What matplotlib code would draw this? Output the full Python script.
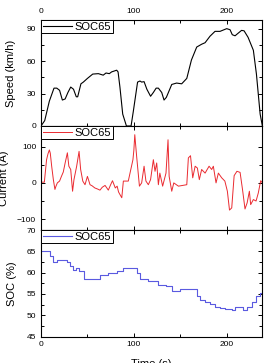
import matplotlib
matplotlib.use("Agg")
import matplotlib.pyplot as plt
from matplotlib.ticker import MultipleLocator, FixedLocator

plt.rcParams['font.family'] = ['Liberation Sans', 'DejaVu Sans']

# Speed (km/h)
t_speed = [0, 4, 9, 14, 17, 20, 23, 26, 29, 32, 35, 38, 39.5, 43, 45.6, 50, 55.7, 61.8, 67, 70, 73.6, 76,
           81.5, 83, 85, 88, 92, 97, 99.5, 104, 106.6, 108.4, 111, 114, 118, 121, 124, 126.4, 130, 132.5,
           135, 140.8, 146, 151.5, 157, 162, 167.7, 173, 176.7, 182, 187.4, 192.8, 200, 203.6, 206, 209,
           212.6, 216, 218.7, 223, 228.7, 232, 236, 238.4]
speed = [0, 5, 23, 35, 35, 33, 24, 25, 31, 36, 34, 27, 27, 39, 40.6, 44, 48, 48.4, 47, 49, 48.4, 50,
         51.6, 50, 36, 11, 0, 0, 14, 40.6, 41.6, 40.6, 41, 34, 27.5, 31, 35, 35, 31, 24,
         26.5, 38.4, 39.7, 39, 44, 61, 73, 75.6, 77, 83, 87.5, 87.5, 90, 89, 84.4, 83.4,
         86, 88.4, 88, 82, 70, 48, 11, 0]

# Current (A)
t_cur = [0, 3.6, 6, 7.5, 9, 10, 11.5, 13.3, 15, 16, 17.6, 20, 22, 24, 26, 28.4, 30, 32, 34, 35.5, 38.4, 41,
         42.7, 45, 47.4, 50, 52.8, 55, 58, 61, 63.5, 66, 69, 72.5, 75, 77, 80, 82, 83.5, 85, 87, 88.7, 94,
         99, 100, 101, 103, 106, 108.4, 111, 113, 115.6, 118, 121, 122.8, 124.6, 126.4, 128, 131, 134.6,
         136.8, 138, 140.8, 143, 148, 157, 158.7, 161, 163.4, 166, 168.4, 170.5, 173, 176.7, 181, 183.8,
         185.6, 188.5, 191, 194.6, 198, 200.7, 203, 205.4, 208, 211, 214.4, 217, 219.7, 222, 224.4, 225.8,
         228.7, 231.6, 234, 236.6, 238.4]
current = [2, 2, 64, 80, 91, 82, 46, 9, -18, -10, 0, 5, 18, 30, 55, 83, 46, 37, -23, 9, 46, 87,
           37, 5, -5, 18, -5, -8, -14, -17, -20, -12, -7, -20, -5, 6, -14, -9, -25, -32, -41, 5, 5,
           64, 90, 133, 73, -9, 0, 46, 5, -5, 9, 64, 32, 55, -5, 27, -9, 27,
           119, 18, -23, 0, -9, -5, 69, 75, 14, 46, 41, 9, 37, 27, 46, 37,
           46, 0, 27, 14, 5, -23, -75, -69, 20, 32, 29, -18, -72, -55, -23, -60,
           -46, -50, -28, 6, 0]

# SOC (%)
t_soc = [0, 6, 9.7, 13.3, 17, 24, 27.6, 31, 34, 37.7, 41, 46, 60, 63.5, 72.5, 81.5, 88.7, 99.5, 103,
         106.6, 114, 115.6, 124.6, 126.4, 135, 140.8, 146, 149.7, 160.5, 167.7, 171, 176.7, 182, 187.4,
         193, 198, 205.4, 209, 214.4, 218, 221.5, 227, 232, 236, 238.4]
soc = [65, 65, 63.8, 62.4, 63, 63, 62.4, 61.5, 60.5, 61, 60.3, 58.6, 58.6, 59.5, 60, 60.3, 61, 61, 59.8,
       58.6, 58.5, 58, 58, 57.2, 56.8, 55.6, 55.6, 56.1, 56.1, 54.4, 53.6, 53.2, 52.7, 52,
       51.7, 51.4, 51.3, 52, 52, 51.3, 52, 53.2, 54.4, 55.2, 55.2]

legend_label = "SOC65"
x_ticks = [0, 100, 200]

W, H = 267, 363
fig = plt.figure(figsize=(W / 100, H / 100), dpi=100)
left, right = 41 / W, 262 / W
bounds = [(20, 126), (126, 230), (230, 336.5)]
axes = []
for top, bot in bounds:
    ax = fig.add_axes([left, 1 - bot / H, right - left, (bot - top) / H])
    axes.append(ax)

ax1, ax2, ax3 = axes
ax1.plot(t_speed, speed, color='black', lw=0.8, label=legend_label)
ax2.plot(t_cur, current, color='#ea2a30', lw=0.7, label=legend_label)
ax3.step(t_soc, soc, where='post', color='#5a5ae0', lw=0.8, label=legend_label)

ax1.set_ylim(0, 98)
ax1.yaxis.set_major_locator(FixedLocator([0, 30, 60, 90]))
ax1.yaxis.set_minor_locator(FixedLocator([15, 45, 75]))
ax1.set_ylabel("Speed (km/h)", fontsize=8, labelpad=8)

ax2.set_ylim(-130, 157)
ax2.yaxis.set_major_locator(FixedLocator([-100, 0, 100]))
ax2.yaxis.set_minor_locator(FixedLocator([-50, 50]))
ax2.set_ylabel("Current (A)", fontsize=8, labelpad=6)

ax3.set_ylim(45, 70)
ax3.yaxis.set_major_locator(MultipleLocator(5))
ax3.yaxis.set_minor_locator(MultipleLocator(2.5))
ax3.set_ylabel("SOC (%)", fontsize=8, labelpad=7)
ax3.set_xlabel("Time (s)", fontsize=8, labelpad=8)

for i, ax in enumerate(axes):
    ax.set_xlim(0, 238)
    ax.xaxis.set_major_locator(FixedLocator(x_ticks))
    ax.xaxis.set_minor_locator(FixedLocator([50, 150]))
    ax.tick_params(which='both', direction='in', top=True, right=True, labelsize=6, width=0.7)
    ax.tick_params(which='major', length=3)
    ax.tick_params(which='minor', length=2.5)
    for s in ax.spines.values():
        s.set_linewidth(0.8)
    if i == 0:
        ax.tick_params(axis='x', labeltop=True, labelbottom=False)
    elif i == 1:
        ax.tick_params(axis='x', labelbottom=False)
    leg = ax.legend(loc='upper left', borderaxespad=0, fancybox=False, edgecolor='black',
                    framealpha=1, fontsize=8, handlelength=2.6, borderpad=0.15,
                    handletextpad=0.3)
    leg.get_frame().set_linewidth(0.7)

fig.savefig("out.png", dpi=100)
